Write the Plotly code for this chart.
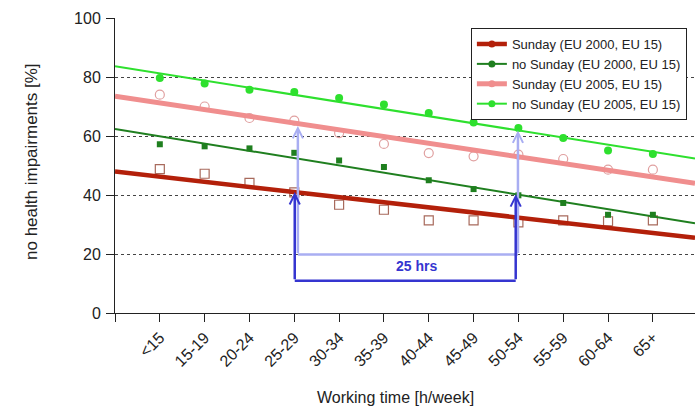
import numpy as np
import plotly.graph_objects as go

categories = ["<15", "15-19", "20-24", "25-29", "30-34", "35-39", "40-44",
              "45-49", "50-54", "55-59", "60-64", "65+"]
series_names = ["Sunday (EU 2000, EU 15)", "no Sunday (EU 2000, EU 15)",
                "Sunday (EU 2005, EU 15)", "no Sunday (EU 2005, EU 15)"]
sunday_2000 = [48.8, 47.2, 44.1, 40.9, 36.7, 35.0, 31.4, 31.4, 30.7, 31.4, 31.1, 31.4]
no_sunday_2000 = [57.2, 56.5, 55.8, 54.3, 51.7, 49.5, 45.0, 42.0, 39.9, 37.3, 33.3, 33.3]
sunday_2005 = [74.0, 70.0, 66.1, 65.2, 61.0, 57.3, 54.2, 53.1, 53.7, 52.2, 48.6, 48.6]
no_sunday_2005 = [79.7, 77.8, 75.7, 74.9, 72.9, 70.7, 67.8, 64.6, 62.7, 59.3, 55.1, 53.9]
y_ticks = [0, 20, 40, 60, 80, 100]
gap_label = "25 hrs"
x_title = "Working time [h/week]"
y_title = "no health impairments [%]"

FONT = "Liberation Sans, Arial, sans-serif"
X_MIN, X_MAX = -1.0, 11.94
idx = np.arange(len(categories))

styles = [
    dict(line=dict(color="#b3200a", width=4.5),
         marker=dict(symbol="square-open", size=9, color="#a86a5c", line=dict(width=1.2))),
    dict(line=dict(color="#1f7f1f", width=2),
         marker=dict(symbol="square", size=6, color="#1f7f1f")),
    dict(line=dict(color="#f08e8e", width=5),
         marker=dict(symbol="circle-open", size=9, color="#e0a0a0", line=dict(width=1.2))),
    dict(line=dict(color="#2ee02e", width=2),
         marker=dict(symbol="circle", size=8, color="#2ee02e")),
]
data = [sunday_2000, no_sunday_2000, sunday_2005, no_sunday_2005]

fig = go.Figure()
fits = [np.poly1d(np.polyfit(idx, vals, 1)) for vals in data]

# data markers
for vals, st in zip(data, styles):
    fig.add_trace(go.Scatter(x=idx, y=vals, mode="markers", marker=st["marker"],
                             showlegend=False, hoverinfo="skip"))
# trend lines
xl = np.array([X_MIN, X_MAX])
for fit, st in zip(fits, styles):
    fig.add_trace(go.Scatter(x=xl, y=fit(xl), mode="lines", line=st["line"],
                             showlegend=False, hoverinfo="skip"))
# legend entries
for name, st in zip(series_names, styles):
    fig.add_trace(go.Scatter(x=[None], y=[None], mode="lines+markers", name=name,
                             line=dict(color=st["line"]["color"], width=st["line"]["width"]),
                             marker=dict(symbol="circle", size=7, color=st["line"]["color"])))

LIGHT = "#a9aef2"
DARK = "#3535d0"
i_a, i_b = categories.index("25-29"), categories.index("50-54")

lx0, lx1, ly = i_a + 0.08, i_b - 0.01, 19.8
dx0, dx1, dy = i_a + 0.01, i_b - 0.06, 10.9

shapes = [
    dict(type="line", xref="x", yref="y", x0=lx0, x1=lx1, y0=ly, y1=ly,
         line=dict(color=LIGHT, width=2.5)),
    dict(type="line", xref="x", yref="y", x0=dx0, x1=dx1, y0=dy, y1=dy,
         line=dict(color=DARK, width=2.5)),
]
annotations = []
arrows = [
    (lx0, fits[2](lx0) - 0.8, ly, LIGHT),
    (lx1, fits[3](lx1), ly, LIGHT),
    (dx0, fits[0](dx0), dy, DARK),
    (dx1, fits[1](dx1), dy, DARK),
]
for x, ytip, ytail, col in arrows:
    annotations.append(dict(x=x, y=ytip, ax=x, ay=ytail, xref="x", yref="y",
                            axref="x", ayref="y", text="", showarrow=True,
                            arrowhead=5, arrowsize=0.8, arrowwidth=2.5, arrowcolor=col))
annotations.append(dict(x=(dx0 + dx1) / 2 + 0.25, y=15.8, xref="x", yref="y",
                        text="<b>" + gap_label + "</b>",
                        showarrow=False, font=dict(family=FONT, size=14, color=DARK),
                        xanchor="center", yanchor="middle"))
annotations.append(dict(text=y_title, xref="paper", yref="paper", x=-0.145, y=0.515,
                        xanchor="center", yanchor="middle", textangle=-90, showarrow=False,
                        font=dict(family=FONT, size=17, color="#222")))
annotations.append(dict(text=x_title, xref="paper", yref="paper", x=0.483, y=-0.285,
                        xanchor="center", yanchor="middle", showarrow=False,
                        font=dict(family=FONT, size=16, color="#222")))

fig.update_layout(
    width=695, height=407,
    margin=dict(l=115, r=0, t=18, b=94, autoexpand=False),
    paper_bgcolor="white", plot_bgcolor="white",
    font=dict(family=FONT, size=16, color="#222"),
    shapes=shapes, annotations=annotations,
    legend=dict(x=0.986, y=0.966, xanchor="right", yanchor="top",
                bgcolor="white", bordercolor="#222", borderwidth=1,
                font=dict(family=FONT, size=13, color="#222"),
                tracegroupgap=0, itemwidth=30),
    xaxis=dict(range=[X_MIN, X_MAX], tickmode="array", automargin=False,
               tickvals=[X_MIN] + list(idx), ticktext=[""] + categories,
               tickangle=-45, ticks="outside", ticklen=8, tickcolor="#222",
               showline=True, linecolor="#222", linewidth=1, showgrid=False,
               zeroline=False, tickfont=dict(size=16)),
    yaxis=dict(range=[0, 100], tickvals=y_ticks, ticks="outside", ticklen=8,
               automargin=False,
               tickcolor="#222", showline=True, linecolor="#222", linewidth=1,
               showgrid=True, gridcolor="#444", griddash="3px,3px", gridwidth=1,
               zeroline=False, tickfont=dict(size=16), ticklabelstandoff=2),
)

# remove the page's default 8px body margin so the figure fills the window exactly
fig.write_html("out.html", config={"displayModeBar": False},
               post_script="document.body.style.margin='0';document.body.style.overflow='hidden';")
